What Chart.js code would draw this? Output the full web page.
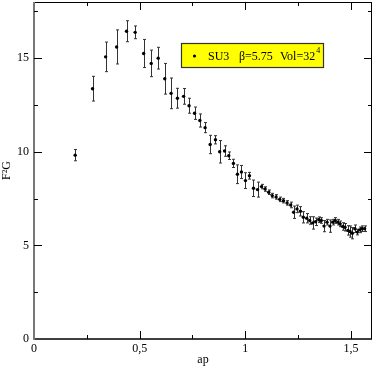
<!DOCTYPE html>
<html>
<head>
<meta charset="utf-8">
<script src="https://cdn.jsdelivr.net/npm/chart.js@4"></script>
<style>
  body { margin: 0; background: #fff; }
  canvas { display: block; }
</style>
</head>
<body>
<canvas id="myChart" width="374" height="367"></canvas>
<script>
// values
const apVals = [0.195, 0.277, 0.339, 0.391, 0.438, 0.479, 0.519, 0.555, 0.588, 0.619,
	0.649, 0.679, 0.708, 0.734, 0.760, 0.785, 0.810, 0.834, 0.859, 0.879,
	0.902, 0.922, 0.944, 0.963, 0.982, 1.001, 1.020, 1.039, 1.058, 1.077,
	1.094, 1.111, 1.128, 1.146, 1.163, 1.181, 1.198, 1.215, 1.229, 1.245,
	1.261, 1.275, 1.291, 1.305, 1.319, 1.333, 1.348, 1.360, 1.373, 1.387,
	1.401, 1.414, 1.426, 1.438, 1.449, 1.461, 1.472, 1.486, 1.496, 1.507,
	1.519, 1.531, 1.541, 1.552, 1.565];
const f2gVals = [9.82, 13.37, 15.07, 15.60, 16.44, 16.38, 15.25, 14.72, 15.00, 13.90,
	13.12, 12.86, 12.96, 12.46, 12.06, 11.67, 11.29, 10.39, 10.64, 10.00,
	10.04, 9.79, 9.38, 8.80, 8.92, 8.46, 8.72, 8.05, 7.98, 8.14,
	8.01, 7.84, 7.66, 7.59, 7.46, 7.39, 7.27, 7.16, 6.77, 6.95,
	6.82, 6.50, 6.45, 6.33, 6.20, 6.26, 6.37, 6.33, 6.03, 6.24,
	6.03, 6.24, 6.33, 6.24, 6.15, 6.01, 5.97, 5.80, 5.74, 5.65,
	5.89, 5.71, 5.83, 5.89, 5.89];
const errVals = [0.30, 0.66, 0.79, 0.91, 0.56, 0.34, 0.75, 0.71, 0.58, 0.82,
	0.82, 0.53, 0.42, 0.40, 0.33, 0.35, 0.27, 0.49, 0.22, 0.60,
	0.28, 0.20, 0.22, 0.50, 0.35, 0.42, 0.18, 0.44, 0.40, 0.12,
	0.12, 0.12, 0.12, 0.12, 0.12, 0.12, 0.12, 0.15, 0.33, 0.20,
	0.25, 0.30, 0.25, 0.20, 0.33, 0.20, 0.15, 0.15, 0.30, 0.15,
	0.33, 0.15, 0.15, 0.15, 0.15, 0.20, 0.20, 0.25, 0.30, 0.30,
	0.20, 0.15, 0.15, 0.15, 0.15];
const xTickLabels = ['0', '0,5', '1', '1,5'];
const seriesLabel = ['SU3', 'β=5.75', 'Vol=32'];

const serif = "'Liberation Serif', 'DejaVu Serif', serif";

// error bars, drawn under the points
const errorBars = {
	id: 'errorBars',
	beforeDatasetsDraw(chart) {
		const ctx = chart.ctx;
		const x = chart.scales.x, y = chart.scales.y;
		ctx.save();
		ctx.strokeStyle = '#333';
		ctx.lineWidth = 1;
		apVals.forEach((a, i) => {
			const px = Math.round(x.getPixelForValue(a)) + 0.5;
			const top = y.getPixelForValue(f2gVals[i] + errVals[i]);
			const bot = y.getPixelForValue(f2gVals[i] - errVals[i]);
			ctx.beginPath();
			ctx.moveTo(px, top); ctx.lineTo(px, bot);
			ctx.moveTo(px - 1.5, top); ctx.lineTo(px + 1.5, top);
			ctx.moveTo(px - 1.5, bot); ctx.lineTo(px + 1.5, bot);
			ctx.stroke();
		});
		ctx.restore();
	}
};

// frame with inward ticks on all four sides
const frame = {
	id: 'frame',
	afterDraw(chart) {
		const ctx = chart.ctx;
		const a = chart.chartArea;
		const x = chart.scales.x, y = chart.scales.y;
		ctx.save();
		ctx.strokeStyle = '#000';
		ctx.lineWidth = 1;
		ctx.beginPath();
		ctx.moveTo(a.left, a.top + 0.5); ctx.lineTo(a.right, a.top + 0.5);
		ctx.moveTo(a.right - 0.5, a.top); ctx.lineTo(a.right - 0.5, a.bottom);
		ctx.stroke();
		ctx.lineWidth = 1.5;
		ctx.beginPath();
		ctx.moveTo(a.left, a.bottom); ctx.lineTo(a.right, a.bottom);
		ctx.stroke();
		ctx.strokeStyle = '#777';
		ctx.lineWidth = 2;
		ctx.beginPath();
		ctx.moveTo(a.left, a.top); ctx.lineTo(a.left, a.bottom + 1);
		ctx.stroke();

		ctx.strokeStyle = '#000';
		ctx.lineWidth = 1;
		ctx.beginPath();
		x.ticks.forEach(t => {
			if (t.value <= 0 || t.value >= 1.6) return;
			const len = Math.abs(t.value / 0.5 - Math.round(t.value / 0.5)) < 1e-6 ? 8 : 4;
			const px = Math.round(x.getPixelForValue(t.value)) + 0.5;
			ctx.moveTo(px, a.bottom); ctx.lineTo(px, a.bottom - len);
			ctx.moveTo(px, a.top); ctx.lineTo(px, a.top + len);
		});
		y.ticks.forEach(t => {
			if (t.value <= 0 || t.value >= 18) return;
			const len = t.value % 5 === 0 ? 8 : 4;
			const py = Math.round(y.getPixelForValue(t.value)) + 0.5;
			ctx.moveTo(a.left, py); ctx.lineTo(a.left + len, py);
			ctx.moveTo(a.right, py); ctx.lineTo(a.right - len, py);
		});
		ctx.stroke();
		ctx.restore();
	}
};

// legend box inside the plot
const legendBox = {
	id: 'legendBox',
	afterDraw(chart) {
		const ctx = chart.ctx;
		ctx.save();
		ctx.fillStyle = '#ffff00';
		ctx.fillRect(181.5, 43.5, 142, 24);
		ctx.strokeStyle = '#333';
		ctx.lineWidth = 1.2;
		ctx.strokeRect(181.5, 43.5, 142, 24);
		ctx.fillStyle = '#000';
		ctx.beginPath();
		ctx.arc(194.5, 56, 1.6, 0, Math.PI * 2);
		ctx.fill();
		ctx.font = '12px ' + serif;
		ctx.textBaseline = 'alphabetic';
		ctx.fillText(seriesLabel[0], 208, 60);
		ctx.fillText(seriesLabel[1], 239, 60);
		ctx.fillText(seriesLabel[2], 280, 60);
		const w = ctx.measureText(seriesLabel[2]).width;
		ctx.font = '8px ' + serif;
		ctx.fillText('4', 280 + w + 1, 53);
		ctx.restore();
	}
};

new Chart(document.getElementById('myChart'), {
	type: 'scatter',
	data: {
		datasets: [{
			label: seriesLabel.join(' '),
			data: apVals.map((a, i) => ({ x: a, y: f2gVals[i] })),
			backgroundColor: '#000',
			borderColor: '#000',
			pointRadius: 1.7,
			pointHoverRadius: 1.7,
			borderWidth: 0
		}]
	},
	options: {
		responsive: false,
		animation: false,
		layout: { padding: { top: 2, right: 2, left: 0, bottom: 0 } },
		plugins: {
			legend: { display: false },
			tooltip: { enabled: false }
		},
		scales: {
			x: {
				type: 'linear',
				min: 0,
				max: 1.6,
				grid: { display: false, drawTicks: false },
				border: { display: false },
				ticks: {
					stepSize: 0.25,
					includeBounds: false,
					autoSkip: false,
					maxRotation: 0,
					padding: 3,
					color: '#000',
					font: { family: serif, size: 12 },
					callback: v => {
						const k = Math.round(v / 0.5);
						return Math.abs(v - k * 0.5) < 1e-6 ? xTickLabels[k] : '';
					}
				},
				title: {
					display: true,
					text: 'ap',
					color: '#000',
					font: { family: serif, size: 12 },
					padding: { top: 0, bottom: 0 }
				},
				afterFit: s => { s.height = 28; s.paddingLeft = 0; s.paddingRight = 0; }
			},
			y: {
				min: 0,
				max: 18,
				grid: { display: false, drawTicks: false },
				border: { display: false },
				ticks: {
					stepSize: 2.5,
					includeBounds: false,
					autoSkip: false,
					padding: 5,
					color: '#000',
					font: { family: serif, size: 12 },
					callback: v => (v % 5 === 0 ? String(v) : '')
				},
				title: {
					display: true,
					text: 'F²G',
					color: '#000',
					font: { family: serif, size: 12 },
					padding: { top: 0, bottom: 0 }
				},
				afterFit: s => { s.width = 34; s.paddingTop = 0; s.paddingBottom = 0; }
			}
		}
	},
	plugins: [errorBars, frame, legendBox]
});
</script>
</body>
</html>
